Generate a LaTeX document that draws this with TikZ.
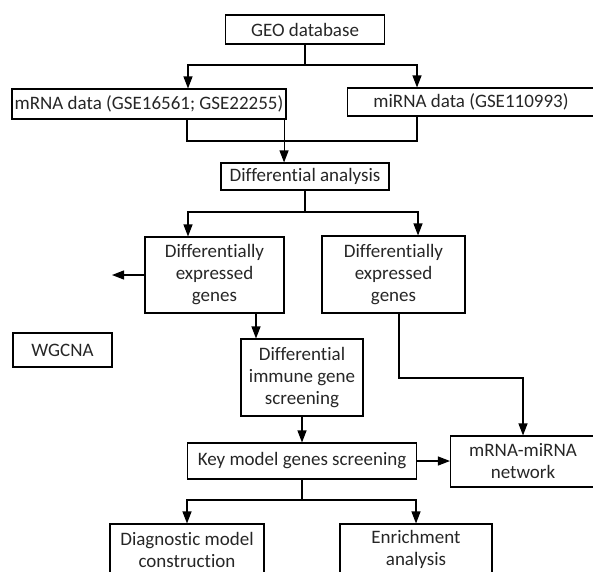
\documentclass[tikz,border=0pt]{standalone}
\usepackage{fontspec}
\setmainfont{Carlito}[Ligatures={NoCommon}]
\usetikzlibrary{arrows.meta}

\begin{document}
\begin{tikzpicture}[x=1pt, y=-1pt, >={Triangle[length=12pt,width=9pt]}, line width=1.1pt,
    box/.style={draw, inner sep=0pt, align=center, text=black!85,
        font=\fontsize{19}{22}\selectfont}]
    \useasboundingbox (0,0) rectangle (593,571);
    \clip (0,0) rectangle (593,571);

    % data sources
    \node[box, minimum width=159pt, minimum height=29pt] (geo) at (305,29.5) {GEO database};
    \node[box, minimum width=274pt, minimum height=30pt] (mrna) at (149,104) {mRNA data (GSE16561; GSE22255)};
    \node[box, minimum width=247pt, minimum height=28pt] (mirna) at (471,102) {miRNA data (GSE110993)};
    \node[box, minimum width=168pt, minimum height=27pt] (diff) at (305,176.5) {Differential analysis};

    % differential genes
    \node[box, minimum width=139pt, minimum height=76pt] (deg1) at (214.5,275) {Differentially\\expressed\\genes};
    \node[box, minimum width=143pt, minimum height=77pt] (deg2) at (393.5,274.5) {Differentially\\expressed\\genes};
    \node[box, minimum width=99pt, minimum height=34pt] (wgcna) at (62.5,350) {WGCNA};
    \node[box, minimum width=122pt, minimum height=77pt] (digs) at (302,377.5) {Differential\\immune gene\\screening};

    % model and network
    \node[box, minimum width=229pt, minimum height=36pt] (key) at (302,461) {Key model genes screening};
    \node[box, minimum width=145pt, minimum height=51pt] (net) at (523,461.5) {mRNA-miRNA\\network};
    \node[box, minimum width=154pt, minimum height=51pt] (diag) at (187,549.5) {Diagnostic model\\construction};
    \node[box, minimum width=152pt, minimum height=51pt] (enrich) at (416,549.5) {Enrichment\\analysis};

    % branch points
    \coordinate (geojoin) at (305,65);
    \coordinate (mergeline) at (417,141);
    \coordinate (diffjoin) at (305,212);
    \coordinate (wgcnatip) at (112,275);
    \coordinate (netbend) at (523,378);
    \coordinate (keyjoin) at (302,500);

    % connectors
    \draw (geo.south) -- (geojoin);
    \draw[->] (geojoin) -| ([xshift=39pt]mrna.north);
    \draw[->] (geojoin) -| ([xshift=-54pt]mirna.north);

    \draw ([xshift=38pt]mrna.south) |- (mergeline) -- ([xshift=-54pt]mirna.south);
    \draw[->] ([xshift=-2.5pt]mrna.south east) -- ([xshift=-2.5pt]mrna.south east |- diff.north);

    \draw (diff.south) -- (diffjoin);
    \draw[->] (diffjoin) -| ([xshift=-26.5pt]deg1.north);
    \draw[->] (diffjoin) -| ([xshift=24.5pt]deg2.north);

    \draw[->] (deg1.west) -- (wgcnatip);
    \draw[->] ([xshift=41.5pt]deg1.south) -- ([xshift=41.5pt]deg1.south |- digs.north);
    \draw[->] (digs.south) -- (key.north);

    \draw[->] ([xshift=5.5pt]deg2.south) |- (netbend) -- (net.north);
    \draw[->] (key.east) -- (key.east -| net.west);

    \draw (key.south) -- (keyjoin);
    \draw[->] (keyjoin) -| (diag.north);
    \draw[->] (keyjoin) -| (enrich.north);
\end{tikzpicture}
\end{document}
